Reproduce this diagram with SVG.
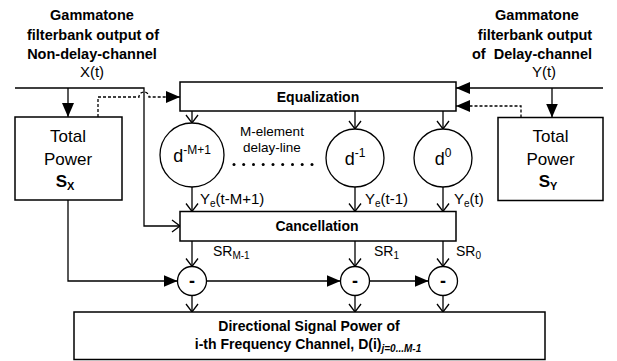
<svg xmlns="http://www.w3.org/2000/svg" width="617" height="361" viewBox="0 0 617 361">
<style>
  .box { fill: #fff; stroke: #000; stroke-width: 1.5; }
  .circ { fill: #fff; stroke: #000; stroke-width: 1.3; }
  .ln { fill: none; stroke: #000; stroke-width: 1.3; }
  .dot { fill: none; stroke: #000; stroke-width: 1.3; stroke-dasharray: 3 2; }
  .t { font-family: "Liberation Sans", Arial, sans-serif; fill: #000; }
  .tb { font-family: "Liberation Sans", Arial, sans-serif; font-weight: bold; fill: #000; }
</style>
<defs>
  <marker id="fa" viewBox="0 0 14 12" refX="14" refY="6" markerWidth="14" markerHeight="12" markerUnits="userSpaceOnUse" orient="auto">
    <path d="M0,0 L14,6 L0,12 z" fill="#000"/>
  </marker>
  <marker id="oa" viewBox="-1 -1 10 14" refX="8" refY="6" markerWidth="10" markerHeight="14" markerUnits="userSpaceOnUse" orient="auto" overflow="visible">
    <path d="M0,0 L8,6 L0,12" fill="none" stroke="#000" stroke-width="1.3"/>
  </marker>
</defs>

<g id="title-left">
  <text class="tb" x="92" y="20" font-size="14.5" text-anchor="middle">Gammatone</text>
  <text class="tb" x="93" y="40" font-size="14.5" text-anchor="middle">filterbank output of</text>
  <text class="tb" x="92" y="59" font-size="14.5" text-anchor="middle">Non-delay-channel</text>
  <text class="t" x="92" y="77" font-size="15" text-anchor="middle">X(t)</text>
</g>
<g id="title-right">
  <text class="tb" x="537" y="20" font-size="14.5" text-anchor="middle">Gammatone</text>
  <text class="tb" x="535" y="40" font-size="14.5" text-anchor="middle">filterbank output</text>
  <text class="tb" x="532" y="59" font-size="14.5" text-anchor="middle" xml:space="preserve">of  Delay-channel</text>
  <text class="t" x="544" y="77" font-size="15" text-anchor="middle">Y(t)</text>
</g>

<g id="connectors">
  <path class="ln" d="M15,88 H144 V226 H180" marker-end="url(#oa)"/>
  <path class="ln" d="M68,88 V117" marker-end="url(#fa)"/>
  <path class="dot" d="M98,117 V97 H139 A5,5 0 0 1 149,97 H180" marker-end="url(#fa)"/>
  <path class="ln" d="M603,88 H456" marker-end="url(#fa)"/>
  <path class="ln" d="M552,88 V117.5" marker-end="url(#fa)"/>
  <path class="dot" d="M521,117.5 V106 H456" marker-end="url(#fa)"/>
  <path class="ln" d="M192,111 V123" marker-end="url(#oa)"/>
  <path class="ln" d="M355,111 V129" marker-end="url(#oa)"/>
  <path class="ln" d="M443,111 V129" marker-end="url(#oa)"/>
  <path class="ln" d="M192,187 V211.5" marker-end="url(#oa)"/>
  <path class="ln" d="M355,187 V211.5" marker-end="url(#oa)"/>
  <path class="ln" d="M443,187 V211.5" marker-end="url(#oa)"/>
  <path class="ln" d="M192,241 V266.5" marker-end="url(#oa)"/>
  <path class="ln" d="M355,241 V266.5" marker-end="url(#oa)"/>
  <path class="ln" d="M443,241 V266.5" marker-end="url(#oa)"/>
  <path class="ln" d="M68,200 V281 H177.5" marker-end="url(#fa)"/>
  <path class="ln" d="M206.5,281 H340.5" marker-end="url(#fa)"/>
  <path class="ln" d="M369.5,281 H428.5" marker-end="url(#fa)"/>
  <path class="ln" d="M192,295.5 V312" marker-end="url(#oa)"/>
  <path class="ln" d="M355,295.5 V312" marker-end="url(#oa)"/>
  <path class="ln" d="M443,295.5 V312" marker-end="url(#oa)"/>
</g>

<g id="total-power-x">
  <rect class="box" x="15" y="117" width="107" height="83"/>
  <text class="t" x="68" y="142" font-size="17" text-anchor="middle">Total</text>
  <text class="t" x="68" y="165" font-size="17" text-anchor="middle">Power</text>
  <text class="tb" x="65" y="187" font-size="17" text-anchor="middle">S<tspan font-size="11" dy="3">X</tspan></text>
</g>
<g id="total-power-y">
  <rect class="box" x="498" y="117.5" width="105" height="83"/>
  <text class="t" x="550.5" y="142" font-size="17" text-anchor="middle">Total</text>
  <text class="t" x="550.5" y="165" font-size="17" text-anchor="middle">Power</text>
  <text class="tb" x="548" y="187" font-size="17" text-anchor="middle">S<tspan font-size="11" dy="3">Y</tspan></text>
</g>

<g id="equalization">
  <rect class="box" x="180" y="82" width="276" height="29"/>
  <text class="tb" x="318" y="102" font-size="14" text-anchor="middle">Equalization</text>
</g>

<g id="delay-m1">
  <circle class="circ" cx="192" cy="155" r="32"/>
  <text class="t" x="192" y="162" font-size="18" text-anchor="middle">d<tspan font-size="12" dy="-8">-M+1</tspan></text>
</g>
<g id="delay-line-label">
  <text class="t" x="272" y="136" font-size="13.5" text-anchor="middle">M-element</text>
  <text class="t" x="272" y="152" font-size="13.5" text-anchor="middle">delay-line</text>
  <g fill="#000">
    <circle cx="234" cy="164.5" r="1.5"/><circle cx="243.7" cy="164.5" r="1.5"/><circle cx="253.5" cy="164.5" r="1.5"/>
    <circle cx="263.2" cy="164.5" r="1.5"/><circle cx="273" cy="164.5" r="1.5"/><circle cx="282.7" cy="164.5" r="1.5"/>
    <circle cx="292.5" cy="164.5" r="1.5"/><circle cx="302.2" cy="164.5" r="1.5"/><circle cx="312" cy="164.5" r="1.5"/>
  </g>
</g>
<g id="delay-1">
  <circle class="circ" cx="355" cy="158" r="29"/>
  <text class="t" x="355" y="165" font-size="18" text-anchor="middle">d<tspan font-size="12" dy="-8">-1</tspan></text>
</g>
<g id="delay-0">
  <circle class="circ" cx="443" cy="158" r="29"/>
  <text class="t" x="443" y="165" font-size="18" text-anchor="middle">d<tspan font-size="12" dy="-8">0</tspan></text>
</g>

<g id="ye-labels">
  <text class="t" x="200" y="204" font-size="15">Y<tspan font-size="10" dy="3">e</tspan><tspan dy="-3">(t-M+1)</tspan></text>
  <text class="t" x="365" y="204" font-size="15">Y<tspan font-size="10" dy="3">e</tspan><tspan dy="-3">(t-1)</tspan></text>
  <text class="t" x="454" y="204" font-size="15">Y<tspan font-size="10" dy="3">e</tspan><tspan dy="-3">(t)</tspan></text>
</g>

<g id="cancellation">
  <rect class="box" x="180" y="211.5" width="276" height="29.5"/>
  <text class="tb" x="317" y="231" font-size="14" text-anchor="middle">Cancellation</text>
</g>

<g id="sr-labels">
  <text class="t" x="213" y="256" font-size="14">SR<tspan font-size="10" dy="3">M-1</tspan></text>
  <text class="t" x="374" y="256" font-size="14">SR<tspan font-size="10" dy="3">1</tspan></text>
  <text class="t" x="456" y="256" font-size="14">SR<tspan font-size="10" dy="3">0</tspan></text>
</g>

<g id="minus-m1">
  <circle class="circ" cx="192" cy="281" r="14.5"/>
  <text class="tb" x="192" y="287" font-size="18" text-anchor="middle">-</text>
</g>
<g id="minus-1">
  <circle class="circ" cx="355" cy="281" r="14.5"/>
  <text class="tb" x="355" y="287" font-size="18" text-anchor="middle">-</text>
</g>
<g id="minus-0">
  <circle class="circ" cx="443" cy="281" r="14.5"/>
  <text class="tb" x="443" y="287" font-size="18" text-anchor="middle">-</text>
</g>

<g id="directional">
  <rect class="box" x="74" y="312" width="471" height="47.5"/>
  <text class="tb" x="309" y="331" font-size="14" text-anchor="middle">Directional Signal Power of</text>
  <text class="tb" x="308" y="349" font-size="14" text-anchor="middle">i-th Frequency Channel, D(i)<tspan font-size="10" font-style="italic" dy="3">j=0...M-1</tspan></text>
</g>
</svg>
